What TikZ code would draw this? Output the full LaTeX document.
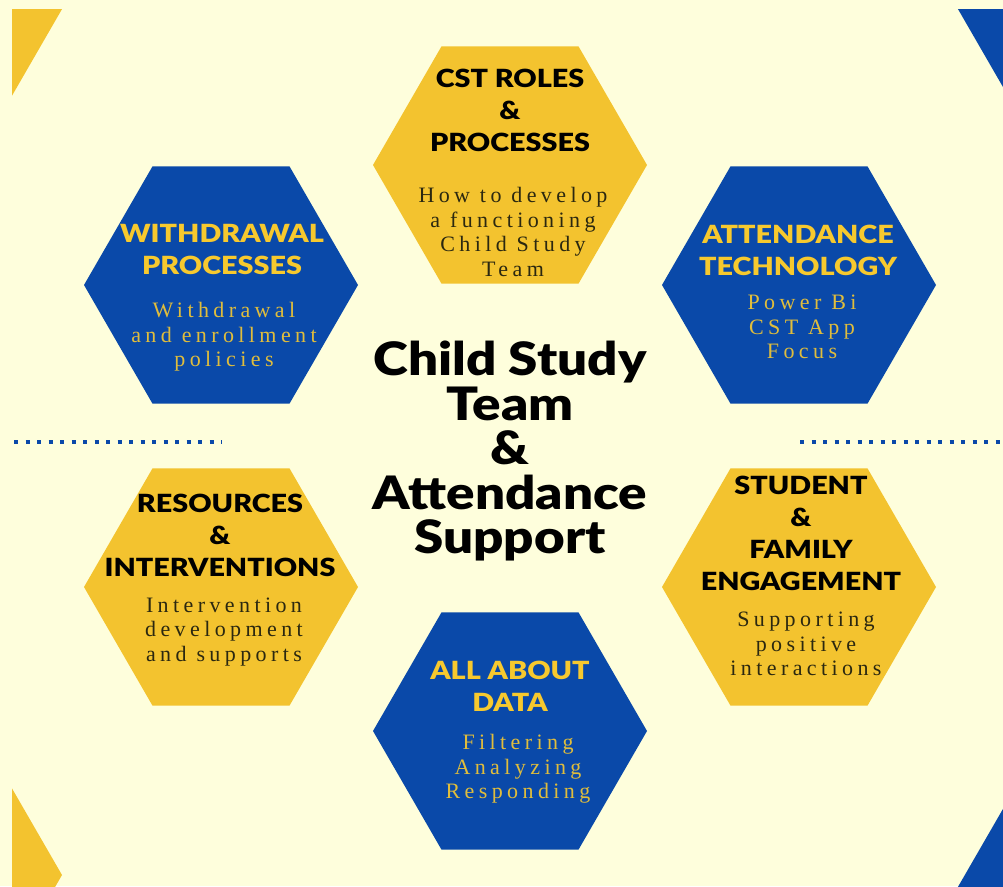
\documentclass[tikz,border=0pt]{standalone}
\usepackage{fontspec}
\usetikzlibrary{shapes.geometric}
\newfontfamily\headfont{Lato Black}[FakeStretch=1.15]
\newfontfamily\subfont{Liberation Serif}[LetterSpace=20]
\definecolor{bgc}{HTML}{FEFEDC}
\definecolor{hexyellow}{HTML}{F3C32F}
\definecolor{hexblue}{HTML}{0A49A9}
\definecolor{headyellow}{HTML}{F7C92E}
\definecolor{subdark}{HTML}{2B2810}
\definecolor{subyellow}{HTML}{E0BD3C}
\tikzset{
  hexagon/.style={regular polygon, regular polygon sides=6, minimum size=274pt, inner sep=0pt, draw=none},
  yhex/.style={hexagon, fill=hexyellow},
  bhex/.style={hexagon, fill=hexblue},
  headtxt/.style={font={\headfont\fontsize{25}{32}\selectfont}, align=center, inner sep=0pt},
  headdark/.style={headtxt, text=black},
  headlight/.style={headtxt, text=headyellow},
  subtxt/.style={font={\subfont\fontsize{22}{24.5}\selectfont}, align=center, inner sep=0pt},
  subondark/.style={subtxt, text=subdark},
  subonblue/.style={subtxt, text=subyellow},
  titletxt/.style={font={\headfont\fontsize{46}{44.5}\selectfont}, align=center, inner sep=0pt, text=black},
  dotline/.style={draw=hexblue, line width=4pt, dash pattern=on 4pt off 7.5pt}
}
\begin{document}
\begin{tikzpicture}[x=1pt,y=-1pt]
\useasboundingbox (0,0) rectangle (1003,886);
\fill[bgc] (0,0) rectangle (1003,886);
% corner hexagons
\begin{scope}
  \clip (12,9) rectangle (1003,886);
  \node[yhex] (cTL) at (-68,-3) {};
  \node[bhex] (cTR) at (1088,-3) {};
  \node[yhex] (cBL) at (-75,875) {};
  \node[bhex] (cBR) at (1092,892) {};
\end{scope}
% dotted lines
\coordinate (dL1) at (14,442);
\coordinate (dL2) at (222,442);
\coordinate (dR1) at (800,442);
\coordinate (dR2) at (1005,442);
\draw[dotline] (dL1) -- (dL2);
\draw[dotline] (dR1) -- (dR2);
% main hexagons
\node[yhex] (hCST) at (510,165) {};
\node[bhex] (hW) at (221,285) {};
\node[bhex] (hA) at (799,285) {};
\node[yhex] (hR) at (221,587) {};
\node[yhex] (hS) at (799,587) {};
\node[bhex] (hD) at (510,731) {};
% texts
\node[headdark] (tCST) at (510,110.5) {CST ROLES\\\&\\PROCESSES};
\node[subondark] (sCST) at (513,232) {How to develop\\a functioning\\Child Study\\Team};
\node[headlight] (tW) at (222,249) {WITHDRAWAL\\PROCESSES};
\node[subonblue] (sW) at (224,337) {Withdrawal\\and enrollment\\policies};
\node[headlight] (tA) at (798,250) {ATTENDANCE\\TECHNOLOGY};
\node[subonblue] (sA) at (802,327) {Power Bi\\CST App\\Focus};
\node[headdark] (tR) at (220,535) {RESOURCES\\\&\\INTERVENTIONS};
\node[subondark] (sR) at (224,632) {Intervention\\development\\and supports};
\node[headdark] (tS) at (801,533.5) {STUDENT\\\&\\FAMILY\\ENGAGEMENT};
\node[subondark] (sS) at (806,644) {Supporting\\positive\\interactions};
\node[headlight] (tD) at (510,686) {ALL ABOUT\\DATA};
\node[subonblue] (sD) at (518,769) {Filtering\\Analyzing\\Responding};
\node[titletxt] (title) at (510,451) {Child Study\\Team\\\&\\Attendance\\Support};
\end{tikzpicture}
\end{document}
